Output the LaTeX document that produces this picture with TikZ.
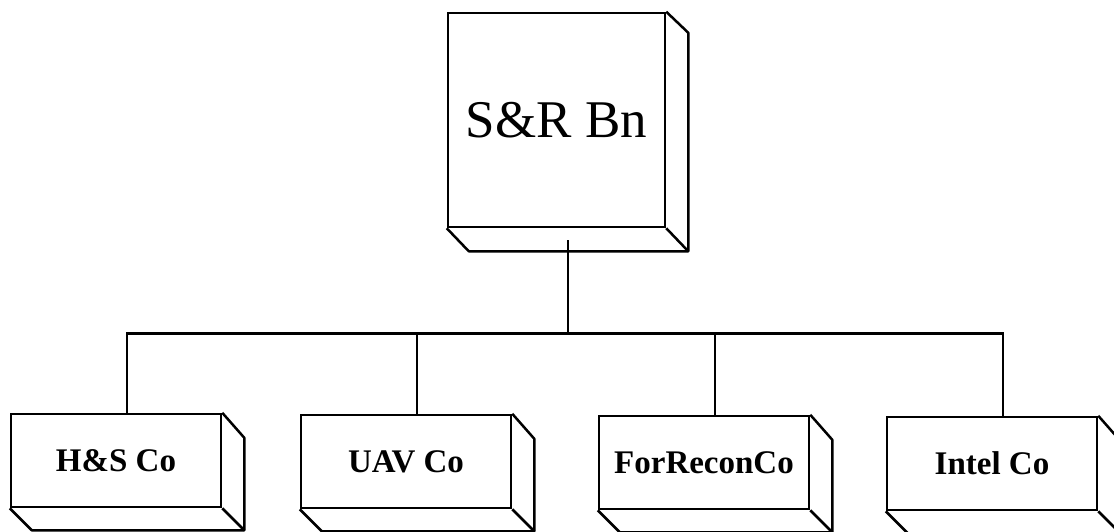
\documentclass[tikz,border=0pt]{standalone}
\usepackage{fontspec}
\setmainfont{Liberation Serif}
\usetikzlibrary{calc}

\tikzset{
  unitbox/.style={draw, line width=2.5pt, rectangle, minimum width=210pt, minimum height=93pt,
    inner sep=0pt, font=\fontsize{33}{38}\selectfont\bfseries},
  bigunit/.style={draw, line width=2.5pt, rectangle, minimum width=217pt, minimum height=214pt,
    inner sep=0pt, font=\fontsize{53}{60}\selectfont},
  link/.style={line width=2.5pt},
  face/.style={line width=2.5pt, line join=round}
}

\begin{document}
\begin{tikzpicture}[x=1pt, y=-1pt]
\useasboundingbox (0,0) rectangle (1114,532);

\node[bigunit] (bn) at (556.5,120) {S\&R Bn};
\draw[face] (bn.north east) -- ++(22,21) -- ($(bn.south east)+(22,23)$) -- ($(bn.south west)+(22,23)$) -- (bn.south west);
\draw[face] (bn.south east) -- ++(22,23);

\node[unitbox] (hs) at (116,460.5) {H\&S Co};
\node[unitbox] (uav) at (406,461.5) {UAV Co};
\node[unitbox] (recon) at (704,462.5) {ForReconCo};
\node[unitbox] (intel) at (992,463.5) {Intel Co};

\foreach \n in {hs,uav,recon,intel}{
  \draw[face] (\n.north east) -- ++(22,25) -- ($(\n.south east)+(22,22)$) -- ($(\n.south west)+(22,22)$) -- (\n.south west);
  \draw[face] (\n.south east) -- ++(22,22);
}

\coordinate (base) at ($(bn.south)+(11.5,12)$);
\coordinate (bus) at ($(base)+(0,93)$);
\draw[link] (base) -- (bus);

\draw[link] ($(hs.north)+(11,0)$) |- (bus);
\draw[link] ($(uav.north)+(11,0)$) |- (bus);
\draw[link] ($(recon.north)+(11,0)$) |- (bus);
\draw[link] ($(intel.north)+(11,0)$) |- (bus);
\end{tikzpicture}
\end{document}
